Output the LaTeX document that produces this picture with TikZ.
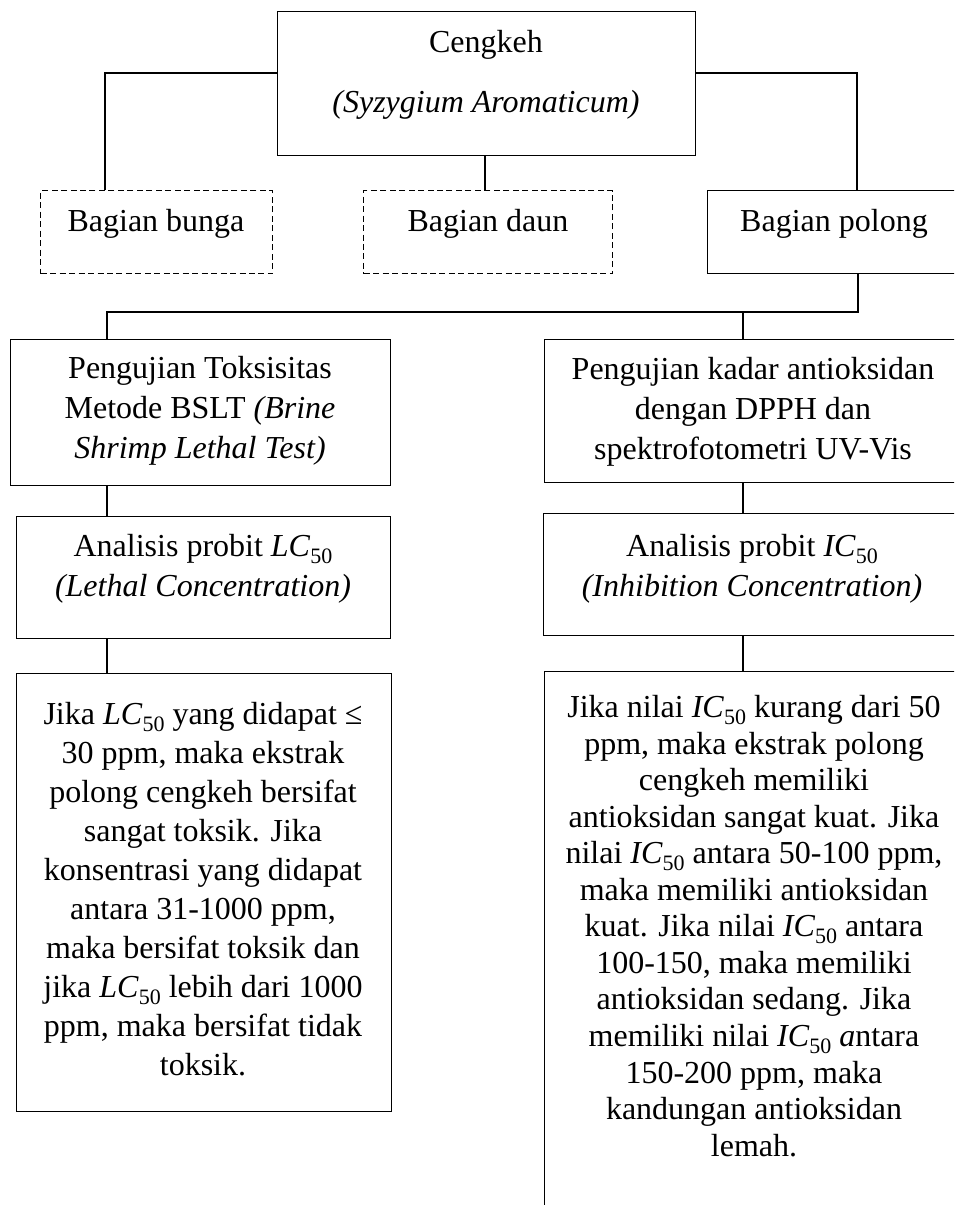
\documentclass[tikz,border=0pt]{standalone}
\usepackage{fontspec}
\setmainfont{Liberation Serif}
\newcommand{\sbn}[1]{\raisebox{-0.22em}{\fontsize{16.5}{16.5}\selectfont #1}}
\newcommand{\LCf}{\textit{LC}\sbn{50}}
\newcommand{\ICf}{\textit{IC}\sbn{50}}
\tikzset{
  box/.style={draw=black, line width=1.1pt, inner sep=0pt, anchor=north west},
  dbox/.style={box, dash pattern=on 4.5pt off 2.6pt},
  txt/.style={align=center, inner sep=0pt, font=\fontsize{24}{30}\selectfont},
  conn/.style={draw=black, line width=0.9pt}
}
\begin{document}
\begin{tikzpicture}[x=0.75pt, y=-0.75pt]
\useasboundingbox (0,0) rectangle (954,1205);
\fill[white] (0,0) rectangle (954,1205);
\clip (0,0) rectangle (954,1205);

% boxes
\node[box, minimum width=313.5pt, minimum height=108pt] (top) at (277,11) {};
\node[dbox, minimum width=174pt, minimum height=62.25pt] (bunga) at (40,190) {};
\node[dbox, minimum width=186.75pt, minimum height=62.25pt] (daun) at (363,190) {};
\node[box, minimum width=191.25pt, minimum height=62.25pt] (polong) at (707,190) {};
\node[box, minimum width=285pt, minimum height=109.5pt] (tox) at (10,339) {};
\node[box, minimum width=314.25pt, minimum height=107.25pt] (kadar) at (544,339) {};
\node[box, minimum width=280.5pt, minimum height=91.5pt] (lc) at (16,516) {};
\node[box, minimum width=315pt, minimum height=91.5pt] (ic) at (543,513) {};
\node[box, minimum width=281.25pt, minimum height=328.5pt] (bl) at (16,673) {};
\node[box, minimum width=315pt, minimum height=419.25pt] (br) at (544,671) {};

% texts
\node[txt, font=\fontsize{24}{45}\selectfont] (ttop) at (486,75) {Cengkeh\\\textit{(Syzygium Aromaticum)}};
\node[txt] (tbunga) at (156,224) {Bagian bunga};
\node[txt] (tdaun) at (488,224) {Bagian daun};
\node[txt] (tpolong) at (834,224) {Bagian polong};
\node[txt] (ttox) at (200,411) {Pengujian Toksisitas\\Metode BSLT \textit{(Brine}\\\textit{Shrimp Lethal Test)}};
\node[txt] (tkadar) at (753,412) {Pengujian kadar antioksidan\\dengan DPPH dan\\spektrofotometri UV-Vis};
\node[txt] (tlc) at (203,569) {Analisis probit \LCf\\\textit{(Lethal Concentration)}};
\node[txt] (tic) at (752,569) {Analisis probit \ICf\\\textit{(Inhibition Concentration)}};
\node[txt, font=\fontsize{24}{29.25}\selectfont] (tbl) at (203,889) {Jika \LCf{} yang didapat ≤\\30 ppm, maka ekstrak\\polong cengkeh bersifat\\sangat toksik. Jika\\konsentrasi yang didapat\\antara 31-1000 ppm,\\maka bersifat toksik dan\\jika \LCf{} lebih dari 1000\\ppm, maka bersifat tidak\\toksik.};
\node[txt, font=\fontsize{24}{27.4}\selectfont] (tbr) at (754,926) {Jika nilai \ICf{} kurang dari 50\\ppm, maka ekstrak polong\\cengkeh memiliki\\antioksidan sangat kuat. Jika\\nilai \ICf{} antara 50-100 ppm,\\maka memiliki antioksidan\\kuat. Jika nilai \ICf{} antara\\100-150, maka memiliki\\antioksidan sedang. Jika\\memiliki nilai \ICf{} \textit{a}ntara\\150-200 ppm, maka\\kandungan antioksidan\\lemah.};

% junction coordinates
\coordinate (jl) at (105,73);
\coordinate (jr) at (857,73);
\coordinate (jc) at (485,0);
\coordinate (jp) at (858,312);
\coordinate (jt) at (107,312);
\coordinate (jk) at (743,312);

% connectors
\draw[conn] (top.west |- jl) -| (bunga.north -| jl);
\draw[conn] (top.east |- jr) -| (polong.north -| jr);
\draw[conn] (top.south -| jc) -- (daun.north -| jc);
\draw[conn] (polong.south -| jp) |- (jt) -- (tox.north -| jt);
\draw[conn] (jk) -- (kadar.north -| jk);
\draw[conn] (tox.south -| jt) -- (lc.north -| jt);
\draw[conn] (lc.south -| jt) -- (bl.north -| jt);
\draw[conn] (kadar.south -| jk) -- (ic.north -| jk);
\draw[conn] (ic.south -| jk) -- (br.north -| jk);
\end{tikzpicture}
\end{document}
